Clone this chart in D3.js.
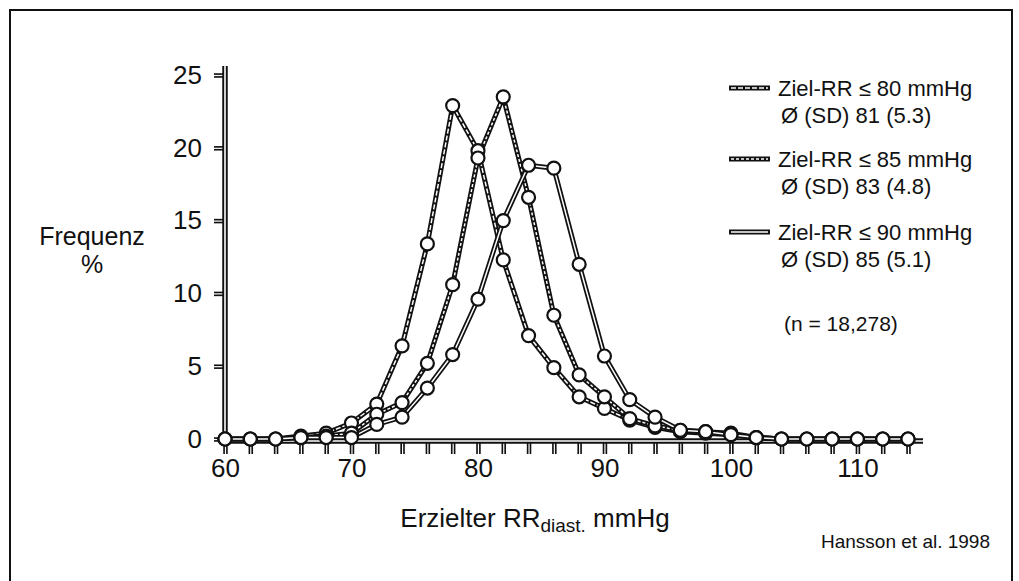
<!DOCTYPE html>
<html>
<head>
<meta charset="utf-8">
<script src="https://cdn.jsdelivr.net/npm/d3@7"></script>
<style>
  body { margin: 0; background: #fff; }
  svg text { font-family: 'Liberation Sans', Arial, Helvetica, sans-serif; fill: #111; }
</style>
</head>
<body>
<div class="canvas"></div>
<script>
// achieved diastolic BP (mmHg), every 2 mmHg
const bpValues = [60, 62, 64, 66, 68, 70, 72, 74, 76, 78, 80, 82, 84, 86,
  88, 90, 92, 94, 96, 98, 100, 102, 104, 106, 108, 110, 112, 114];

// frequency % per target group
const ziel80 = [0, 0, 0, 0.2, 0.4, 1.1, 2.4, 6.4, 13.4, 22.9, 19.8, 12.3, 7.1, 4.9,
  2.9, 2.1, 1.3, 0.8, 0.5, 0.4, 0.3, 0.1, 0, 0, 0, 0, 0, 0];
const ziel85 = [0, 0, 0, 0.1, 0.2, 0.4, 1.7, 2.5, 5.2, 10.6, 19.3, 23.5, 16.6, 8.5,
  4.4, 2.9, 1.4, 0.9, 0.6, 0.5, 0.4, 0.1, 0, 0, 0, 0, 0, 0];
const ziel90 = [0, 0, 0, 0.1, 0.1, 0.1, 1.0, 1.5, 3.5, 5.8, 9.6, 15.0, 18.8, 18.6,
  12.0, 5.7, 2.7, 1.5, 0.6, 0.5, 0.3, 0.1, 0, 0, 0, 0, 0, 0];

const yTicks = [0, 5, 10, 15, 20, 25];
const xLabels = [60, 70, 80, 90, 100, 110];

const legendLabels = ['Ziel-RR ≤ 80 mmHg', 'Ziel-RR ≤ 85 mmHg', 'Ziel-RR ≤ 90 mmHg'];
const legendStats = ['Ø (SD) 81 (5.3)', 'Ø (SD) 83 (4.8)', 'Ø (SD) 85 (5.1)'];

const dims = {
  width: 1019,
  height: 581,
  left: 225,
  right: 908,
  top: 75,
  bottom: 439,
  fontSize: '26px'
};

const svg = d3.select('.canvas')
  .append('svg')
  .attr('width', dims.width)
  .attr('height', dims.height);

// outer frame
svg.append('rect')
  .attr('x', 10).attr('y', 10)
  .attr('width', 1002).attr('height', 600)
  .attr('fill', 'none')
  .attr('stroke', '#111')
  .attr('stroke-width', 2);

// scales
const x = d3.scaleLinear().domain([60, 114]).range([dims.left, dims.right]);
const y = d3.scaleLinear().domain([0, 25]).range([dims.bottom, dims.top]);

// hollow "tube" line helper
const tube = (g, x1, y1, x2, y2, outer, inner) => {
  g.append('line').attr('x1', x1).attr('y1', y1).attr('x2', x2).attr('y2', y2)
    .attr('stroke', '#111').attr('stroke-width', outer);
  g.append('line').attr('x1', x1).attr('y1', y1).attr('x2', x2).attr('y2', y2)
    .attr('stroke', '#fff').attr('stroke-width', inner);
};

// axes
const xAxis = d3.axisBottom(x)
  .tickValues(bpValues)
  .tickSize(0)
  .tickPadding(18)
  .tickFormat((d) => (xLabels.includes(d) ? d : ''));
const yAxis = d3.axisLeft(y)
  .tickValues(yTicks)
  .tickSize(0)
  .tickPadding(23);

const xAxisGroup = svg.append('g')
  .attr('transform', `translate(0, ${dims.bottom + 2})`)
  .call(xAxis);
const yAxisGroup = svg.append('g')
  .attr('transform', `translate(${dims.left}, 0)`)
  .call(yAxis);

svg.selectAll('path.domain').remove();
svg.selectAll('.tick text')
  .attr('font-size', dims.fontSize)
  .attr('fill', '#111');

// tick marks as small hollow bars
xAxisGroup.selectAll('.tick').each(function () {
  tube(d3.select(this), 0, 1, 0, 13, 4.5, 1.2);
});
yAxisGroup.selectAll('.tick').each(function () {
  tube(d3.select(this), -11, 0, -2, 0, 4.5, 1.2);
});

// axis lines
const axes = svg.append('g');
tube(axes, dims.left, 66, dims.left, dims.bottom + 4, 5.5, 1.6);
tube(axes, dims.left, dims.bottom + 2, 923, dims.bottom + 2, 5.5, 1.6);

// series
const series = [
  { values: ziel80, dash: '5,2' },
  { values: ziel85, dash: '3,2' },
  { values: ziel90, dash: null }
];

const line = d3.line()
  .x((d) => x(d.bp))
  .y((d) => y(d.v));

const lines = svg.append('g');
series.forEach((s) => {
  const pts = bpValues.map((bp, i) => ({ bp: bp, v: s.values[i] }));
  lines.append('path')
    .attr('d', line(pts))
    .attr('fill', 'none')
    .attr('stroke', '#111')
    .attr('stroke-width', 5)
    .attr('stroke-linejoin', 'round');
  lines.append('path')
    .attr('d', line(pts))
    .attr('fill', 'none')
    .attr('stroke', '#fff')
    .attr('stroke-width', 1.5)
    .attr('stroke-dasharray', s.dash);
});

const dots = svg.append('g');
series.forEach((s) => {
  dots.selectAll(null)
    .data(bpValues.map((bp, i) => ({ bp: bp, v: s.values[i] })))
    .enter()
    .append('circle')
    .attr('cx', (d) => x(d.bp))
    .attr('cy', (d) => y(d.v))
    .attr('r', 6.5)
    .attr('fill', '#fff')
    .attr('stroke', '#111')
    .attr('stroke-width', 2.2);
});

// axis titles
svg.append('text')
  .attr('x', 92).attr('y', 245)
  .attr('text-anchor', 'middle')
  .attr('font-size', '25px')
  .text('Frequenz');
svg.append('text')
  .attr('x', 92).attr('y', 273)
  .attr('text-anchor', 'middle')
  .attr('font-size', '25px')
  .text('%');

const xTitle = svg.append('text')
  .attr('x', 535).attr('y', 527)
  .attr('text-anchor', 'middle')
  .attr('font-size', '26px');
xTitle.append('tspan').text('Erzielter RR');
xTitle.append('tspan').attr('font-size', '19px').attr('dy', 5).text('diast.');
xTitle.append('tspan').attr('dy', -5).text(' mmHg');

// legend
const legend = svg.append('g');
const legendY = [88, 159, 232];
legendLabels.forEach((label, i) => {
  const g = legend.append('g').attr('transform', `translate(0, ${legendY[i]})`);
  g.append('line').attr('x1', 729).attr('x2', 770).attr('y1', 0).attr('y2', 0)
    .attr('stroke', '#111').attr('stroke-width', 5);
  g.append('line').attr('x1', 731).attr('x2', 768).attr('y1', 0).attr('y2', 0)
    .attr('stroke', '#fff').attr('stroke-width', 1.5)
    .attr('stroke-dasharray', series[i].dash);
  g.append('text').attr('x', 778).attr('y', 8)
    .attr('font-size', '22px')
    .text(label);
  g.append('text').attr('x', 781).attr('y', 35)
    .attr('font-size', '22px')
    .text(legendStats[i]);
});

svg.append('text')
  .attr('x', 784).attr('y', 331)
  .attr('font-size', '21px')
  .text('(n = 18,278)');

svg.append('text')
  .attr('x', 990).attr('y', 548)
  .attr('text-anchor', 'end')
  .attr('font-size', '19px')
  .text('Hansson et al. 1998');
</script>
</body>
</html>
